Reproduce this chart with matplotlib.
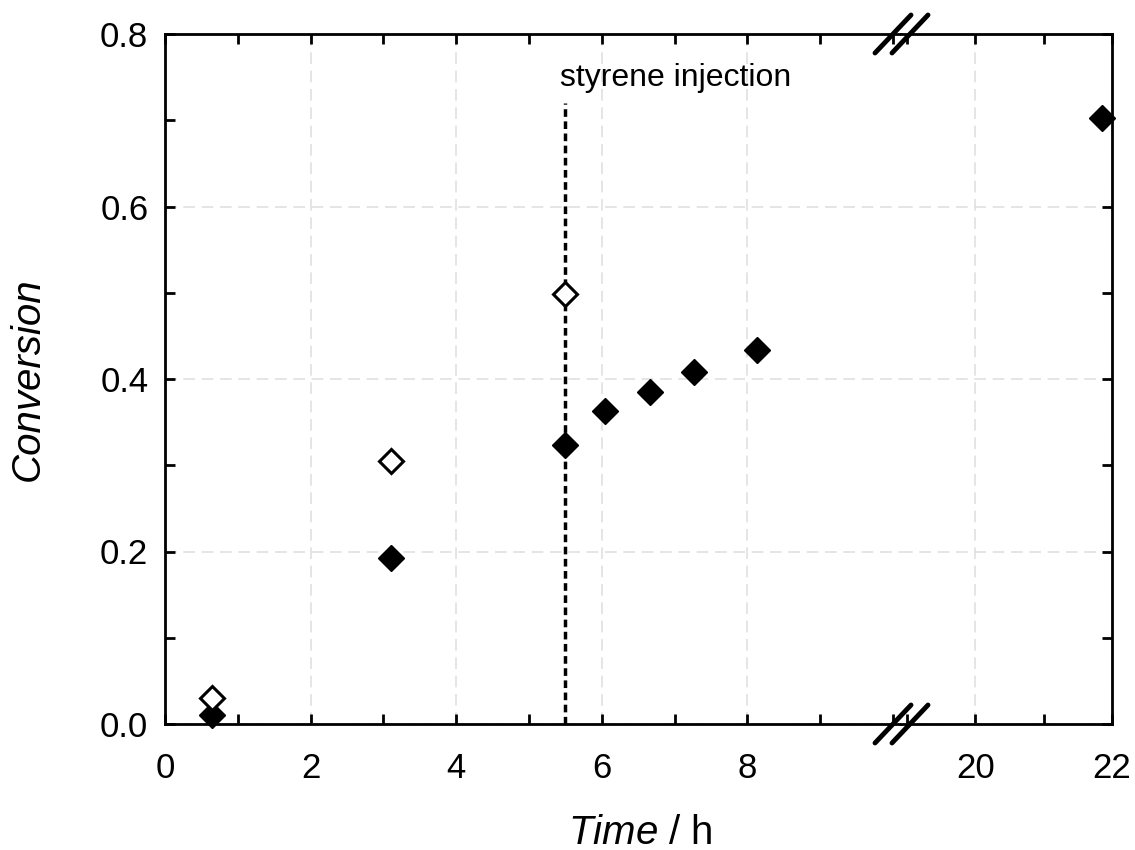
import numpy as np
import matplotlib
matplotlib.use("Agg")
import matplotlib.pyplot as plt
from matplotlib.ticker import MultipleLocator, FormatStrFormatter
from matplotlib.lines import Line2D

plt.rcParams['font.family'] = ['Liberation Sans', 'DejaVu Sans']
plt.rcParams['mathtext.fontset'] = 'custom'
plt.rcParams['mathtext.rm'] = 'Liberation Sans'
plt.rcParams['mathtext.it'] = 'Liberation Sans:italic'

# data
open_t = np.array([0.65, 3.1, 5.49])
open_conv = np.array([0.030, 0.305, 0.499])
filled_t = np.array([0.65, 3.1, 5.5, 6.05, 6.66, 7.26, 8.13, 21.86])
filled_conv = np.array([0.010, 0.193, 0.323, 0.363, 0.385, 0.408, 0.434, 0.703])
injection_t = 5.5
y_ticks = [0.0, 0.2, 0.4, 0.6, 0.8]
left_xticks = [0, 2, 4, 6, 8]
right_xticks = [20, 22]

W, H = 1135, 850
fig = plt.figure(figsize=(W / 100, H / 100), dpi=100)
ax1 = fig.add_axes([165 / W, 1 - 724 / H, (901 - 165) / W, 690 / H])
ax2 = fig.add_axes([901 / W, 1 - 724 / H, (1112 - 901) / W, 690 / H], sharey=ax1)

ax1.set_xlim(0, (901 - 165) / 72.8)
ax2.set_xlim(22 - (1112 - 901) / 68.3, 22)
ax1.set_ylim(0, 0.8)

for ax in (ax1, ax2):
    lo, hi = ax.get_xlim()
    ax.grid(True, which='major', color='#e0e0e0', linestyle=(0, (7, 4)), linewidth=1.2)
    ax.set_axisbelow(True)
    for s in ax.spines.values():
        s.set_linewidth(2)
    ax.yaxis.set_major_locator(MultipleLocator(0.2))
    ax.yaxis.set_minor_locator(MultipleLocator(0.1))
    ax.xaxis.set_minor_locator(MultipleLocator(1))
    ax.tick_params(which='both', direction='in', top=True, length=7, width=2, labelsize=25)
    m = (filled_t >= lo) & (filled_t <= hi)
    ax.plot(filled_t[m], filled_conv[m], 'D', color='black', markersize=13.5,
            clip_on=False, zorder=5)
    m = (open_t >= lo) & (open_t <= hi)
    ax.plot(open_t[m], open_conv[m], 'D', markerfacecolor='white', markeredgecolor='black',
            markeredgewidth=2.2, markersize=12.5, clip_on=False, zorder=5)

ax1.set_xticks(left_xticks)
ax2.set_xticks(right_xticks)
ax1.set_yticks(y_ticks)
ax1.spines['right'].set_visible(False)
ax2.spines['left'].set_visible(False)
ax1.tick_params(which='both', right=False, left=True)
ax2.tick_params(which='both', left=False, right=True, labelleft=False)
ax1.tick_params(axis='y', pad=12)
ax1.tick_params(axis='x', pad=20)
ax2.tick_params(axis='x', pad=20)
ax1.yaxis.set_major_formatter(FormatStrFormatter('%.1f'))

# injection marker
ax1.plot([injection_t, injection_t], [0, 0.72], color='black', linewidth=2.5,
         dashes=(2.2, 1.3), zorder=4)
ax1.text(5.42, 0.74, 'styrene injection', fontsize=23, ha='left', va='baseline')

# axis break marks (figure pixels)
for yc in (724, 34):
    for xc in (893, 910):
        fig.add_artist(Line2D([(xc - 18) / W, (xc + 18) / W],
                              [1 - (yc + 19) / H, 1 - (yc - 19) / H],
                              color='black', linewidth=3.5, solid_capstyle='round',
                              zorder=10))

fig.text(28 / W, 1 - 379 / H, 'Conversion', rotation=90, fontsize=29,
         style='italic', ha='center', va='center')
fig.text(640 / W, 1 - 844 / H, r'$Time$ / h', fontsize=29,
         ha='center', va='baseline')

fig.savefig('out.png', dpi=100)
